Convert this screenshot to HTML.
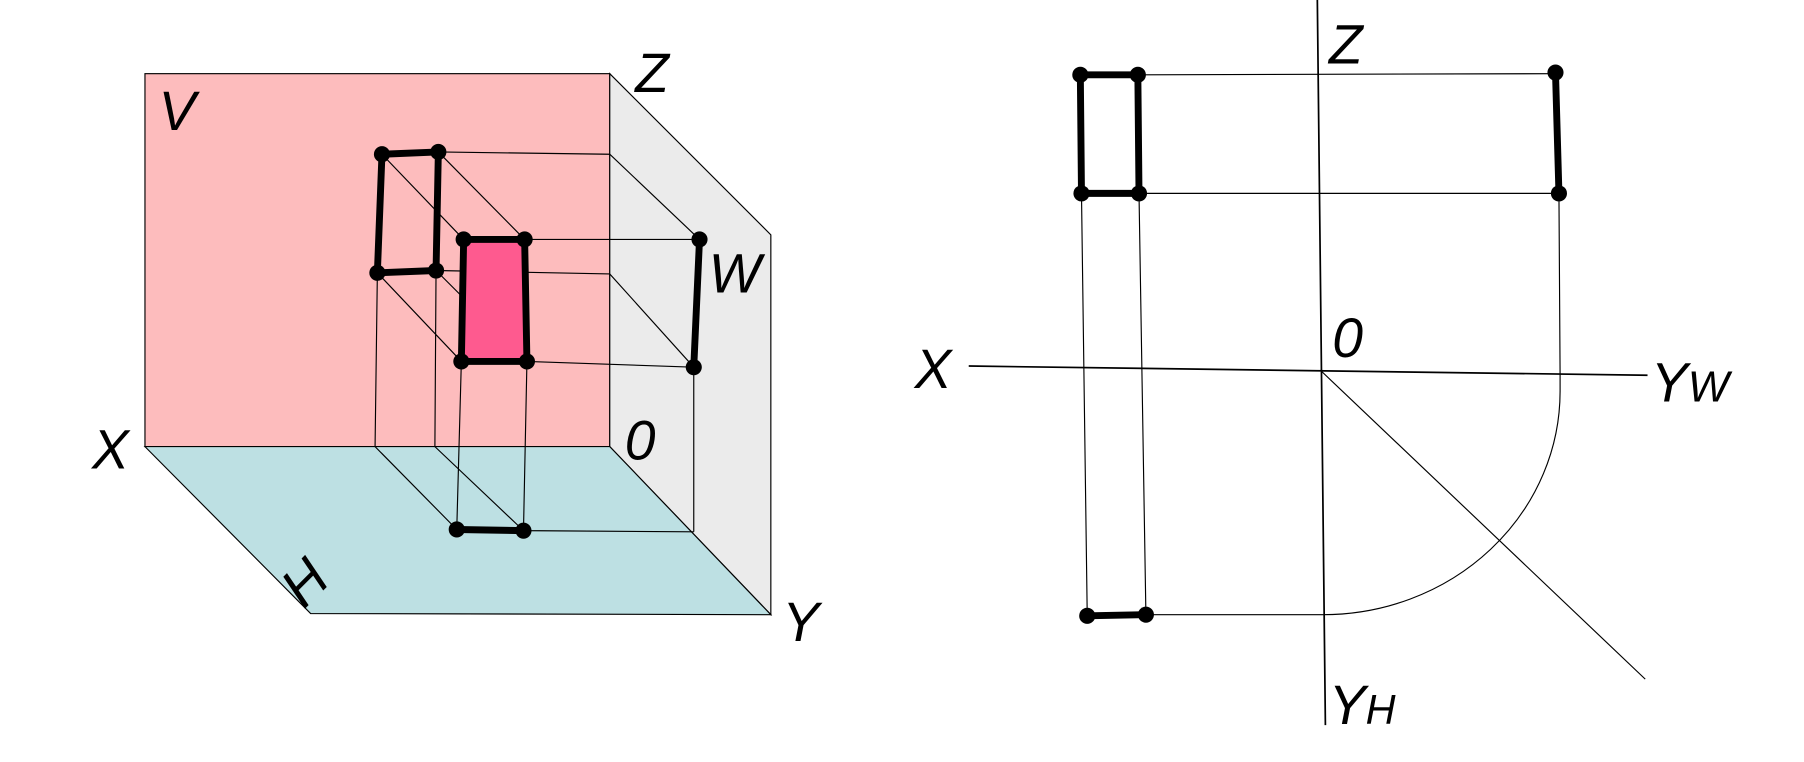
<!DOCTYPE html>
<html><head><style>html,body{margin:0;padding:0;background:#fff}svg{display:block}</style></head><body>
<svg width="1804" height="762" viewBox="0 0 1568 662" preserveAspectRatio="none" xmlns="http://www.w3.org/2000/svg">
<g font-family="Liberation Sans, sans-serif" font-style="italic" font-size="48" fill="#000">
<rect x="126" y="64" width="404" height="324" fill="#fdbcbd" stroke="#000" stroke-width="1"/>
<polygon points="530,64 670,204 670,534 530,388" fill="#ebebeb" stroke="#000" stroke-width="1"/>
<polygon points="126,388 530,388 670,534 270,533" fill="#bde0e3" stroke="#000" stroke-width="1"/>
<g stroke="#000" stroke-width="1" fill="none">
<path d="M381,132 L530,134 L608,208 M332,134 L403,208 M381,132 L456,208 M456,208 L608,208 M379,235 L530,238 L603,319 M328,237 L401,314 M379,235 L458,314 M458,314 L603,319 M328,237 L326,388 M379,235 L378,388 M401,314 L397,460 M458,314 L455,461 M326,388 L397,460 M378,388 L455,461 M455,461 L603,462 M603,319 L603,462"/>
</g>
<polygon points="403,208 456,208 458,314 401,314" fill="#fe5a8f" stroke="#000" stroke-width="6" stroke-linejoin="round"/>
<g stroke="#000" stroke-width="6" fill="none" stroke-linecap="round">
<path d="M332,134 L381,132 L379,235 L328,237 Z M608,208 L603,319 M397,460 L455,461"/>
</g>
<g fill="#000">
<circle cx="332" cy="134" r="7"/><circle cx="381" cy="132" r="7"/><circle cx="328" cy="237" r="7"/><circle cx="379" cy="235" r="7"/>
<circle cx="403" cy="208" r="7"/><circle cx="456" cy="208" r="7"/><circle cx="401" cy="314" r="7"/><circle cx="458" cy="314" r="7"/>
<circle cx="608" cy="208" r="7"/><circle cx="603" cy="319" r="7"/><circle cx="397" cy="460" r="7"/><circle cx="455" cy="461" r="7"/>
</g>
<text x="138" y="113">V</text>
<text x="552" y="80">Z</text>
<text x="616" y="254">W</text>
<text x="80" y="407">X</text>
<text x="543" y="399">0</text>
<text x="680" y="557">Y</text>
<text transform="translate(264,530) rotate(-45)">H</text>

<g stroke="#000" stroke-width="1.5" fill="none">
<path d="M1145,0 L1152,630 M842,318 L1432,326"/>
</g>
<g stroke="#000" stroke-width="1" fill="none">
<path d="M1148,322 L1430,590 M1356,326 L1356,340 A206,194 0 0 1 1150,534 M989,65 L1352,64 M990,168 L1355,168 M940,168 L945,535 M990,168 L996,534 M996,534 L1150,534 M1355,168 L1356,326"/>
</g>
<g stroke="#000" stroke-width="6" fill="none" stroke-linecap="round">
<path d="M939,65 L989,65 L990,168 L940,168 Z M1352,63 L1355,168 M945,535 L996,534"/>
</g>
<g fill="#000">
<circle cx="939" cy="65" r="7"/><circle cx="989" cy="65" r="7"/><circle cx="940" cy="168" r="7"/><circle cx="990" cy="168" r="7"/>
<circle cx="1352" cy="63" r="7"/><circle cx="1355" cy="168" r="7"/><circle cx="945" cy="535" r="7"/><circle cx="996" cy="534" r="7"/>
</g>
<text x="1155" y="55">Z</text>
<text x="1158" y="310">0</text>
<text x="795" y="337">X</text>
<text x="1435" y="349">Y<tspan font-size="38">W</tspan></text>
<text x="1155" y="629">Y<tspan font-size="36">H</tspan></text>
</g>
</svg>
</body></html>
